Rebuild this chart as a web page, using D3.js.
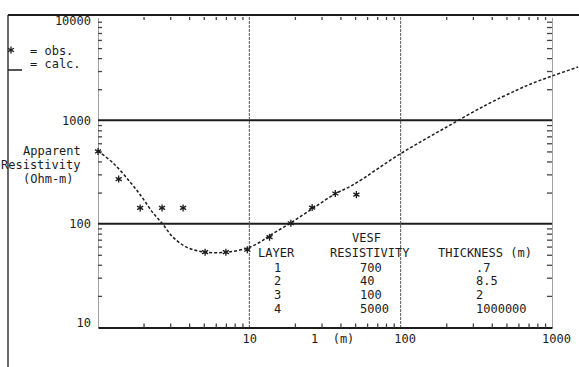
<!DOCTYPE html>
<html>
<head>
<meta charset="utf-8">
<script src="https://cdn.jsdelivr.net/npm/d3@7"></script>
<style>
  html, body { margin: 0; padding: 0; background: #fff; }
  svg { display: block; }
  text { font-family: "DejaVu Sans Mono", "Liberation Mono", monospace; font-size: 12px; fill: #1c1c1c; }
</style>
</head>
<body>
<svg id="chart" width="579" height="367"></svg>
<script>
// Field sounding: electrode half-spacing AB/2 (m) and observed apparent resistivity (ohm-m)
const obsSpacing = [1, 1.37, 1.9, 2.65, 3.65, 5.1, 7, 9.7, 13.6, 18.8, 26, 37, 51];
const obsRho     = [500, 270, 142, 142, 142, 53, 53, 56, 74, 101, 143, 196, 191];

// Calculated model response
const calcSpacing = [1, 1.26, 1.63, 1.95, 2.31, 2.65, 3.13, 3.87, 5.1, 7.1, 9.7, 11.8, 13.5,
                     18.6, 26, 36.8, 48.4, 99, 196, 371, 588, 750, 1000, 1487];
const calcRho     = [505, 386, 253, 181, 127, 101, 74, 59, 53, 53, 58, 66.5, 76,
                     101, 139, 194, 237, 472, 843, 1420, 1967, 2297, 2685, 3281];

// Axis labels
const yTickLabels = [10, 100, 1000, 10000];
const xTickLabels = [10, 100, 1000];
const yGridValues = [100, 1000];
const xGridValues = [10, 100];

// Layer model table
const tableTitle = "VESF";
const tableHeaders = ["LAYER", "RESISTIVITY", "THICKNESS (m)"];
const layerNumbers = ["1", "2", "3", "4"];
const layerResistivity = ["700", "40", "100", "5000"];
const layerThickness = [".7", "8.5", "2", "1000000"];

const svg = d3.select("#chart");
const ink = "#1c1c1c";

const x = d3.scaleLog().domain([1, 1000]).range([98, 552]);
const y = d3.scaleLog().domain([10, 10000]).range([327, 17]);

// Outer frame (top and left edges of the printout)
svg.append("line").attr("x1", 8).attr("x2", 579).attr("y1", 15).attr("y2", 15)
  .attr("stroke", ink).attr("stroke-width", 2);
svg.append("line").attr("x1", 8).attr("x2", 8).attr("y1", 15).attr("y2", 367)
  .attr("stroke", ink).attr("stroke-width", 1.3);

// Minor ticks on all four sides
const minorX = x.ticks().filter(v => Math.abs(Math.log10(v) % 1) > 1e-6);
const minorY = y.ticks().filter(v => Math.abs(Math.log10(v) % 1) > 1e-6);

function styleTicks(g, dotted) {
  g.select(".domain").attr("stroke", "#444").attr("stroke-width", 1)
    .attr("stroke-dasharray", dotted ? "1,1" : null);
  g.selectAll(".tick line").attr("stroke", "#444").attr("stroke-width", 1.3);
  g.selectAll(".tick text").remove();
}

svg.append("g").attr("transform", `translate(${x.range()[0]},0)`)
  .call(d3.axisLeft(y).tickValues(minorY).tickSize(-4).tickSizeOuter(0).tickFormat(""))
  .call(g => styleTicks(g, true));
svg.append("g").attr("transform", `translate(${x.range()[1]},0)`)
  .call(d3.axisRight(y).tickValues(minorY).tickSize(-5).tickSizeOuter(0).tickFormat(""))
  .call(g => styleTicks(g, true));
svg.append("g").attr("transform", `translate(0,${y.range()[1]})`)
  .call(d3.axisTop(x).tickValues(minorX).tickSize(-3).tickSizeOuter(0).tickFormat(""))
  .call(g => { styleTicks(g, false); g.select(".domain").remove(); });
svg.append("g").attr("transform", `translate(0,${y.range()[0] + 0.5})`)
  .call(d3.axisBottom(x).tickValues(minorX).tickSize(-4).tickSizeOuter(0).tickFormat(""))
  .call(g => { styleTicks(g, false); g.select(".domain").attr("stroke", ink).attr("stroke-width", 1.8); });

// Decade grid lines
svg.append("g").selectAll("line").data(yGridValues).join("line")
  .attr("x1", x.range()[0]).attr("x2", x.range()[1])
  .attr("y1", d => y(d)).attr("y2", d => y(d))
  .attr("stroke", ink).attr("stroke-width", 2);
svg.append("g").selectAll("line").data(xGridValues).join("line")
  .attr("x1", d => x(d)).attr("x2", d => x(d))
  .attr("y1", y.range()[1]).attr("y2", y.range()[0])
  .attr("stroke", "#555").attr("stroke-width", 1).attr("stroke-dasharray", "3,1");

// Axis labels; the end labels sit just inside the frame
const [yMin, yMax] = y.domain();
svg.append("g").attr("transform", `translate(${x.range()[0]},0)`)
  .call(d3.axisLeft(y).tickValues(yTickLabels).tickSize(0).tickPadding(7).tickFormat(d3.format("d")))
  .call(g => {
    g.select(".domain").remove();
    g.selectAll("text").attr("font-family", null).attr("font-size", null)
      .attr("y", d => d === yMax ? 4 : d === yMin ? -4 : 0);
  });
svg.append("g").attr("transform", `translate(0,${y.range()[0]})`)
  .call(d3.axisBottom(x).tickValues(xTickLabels).tickSize(0).tickPadding(7).tickFormat(d3.format("d")))
  .call(g => {
    g.select(".domain").remove();
    g.selectAll("text").attr("font-family", null).attr("font-size", null)
      .attr("x", d => d >= 100 ? 4 : 0);
  });
svg.selectAll(".tick text").style("fill", ink);

svg.append("text").attr("x", 311).attr("y", 343).attr("xml:space", "preserve").text("1  (m)");

// Y axis title
svg.append("text").attr("x", 23).attr("y", 155).text("Apparent");
svg.append("text").attr("x", 1).attr("y", 169).text("Resistivity");
svg.append("text").attr("x", 23).attr("y", 183).text("(Ohm-m)");

// Calculated curve (dashed)
const line = d3.line().x(d => x(d[0])).y(d => y(d[1])).curve(d3.curveCatmullRom.alpha(0.5));
svg.append("path")
  .datum(calcSpacing.map((s, i) => [s, calcRho[i]]))
  .attr("d", line).attr("fill", "none")
  .attr("stroke", ink).attr("stroke-width", 1.5).attr("stroke-dasharray", "3,2");

// Observed points as asterisks
const asteriskType = d3.symbolAsterisk || {
  draw(context, size) {
    const r = Math.sqrt(size + Math.min(size / 28, 0.75)) * 0.59436;
    for (let k = 0; k < 3; k++) {
      const a = Math.PI / 2 + k * Math.PI / 3;
      context.moveTo(r * Math.cos(a), r * Math.sin(a));
      context.lineTo(-r * Math.cos(a), -r * Math.sin(a));
    }
  }
};
const star = d3.symbol().type(asteriskType).size(34);
svg.append("g").selectAll("path").data(obsSpacing.map((s, i) => [s, obsRho[i]])).join("path")
  .attr("transform", d => `translate(${x(d[0])},${y(d[1])})`)
  .attr("d", star).attr("fill", "none").attr("stroke", ink).attr("stroke-width", 1.3);

// Legend
svg.append("path").attr("transform", "translate(11,50)").attr("d", star)
  .attr("fill", "none").attr("stroke", ink).attr("stroke-width", 1.3);
svg.append("text").attr("x", 30).attr("y", 55).text("= obs.");
svg.append("line").attr("x1", 8).attr("x2", 22).attr("y1", 70).attr("y2", 70)
  .attr("stroke", ink).attr("stroke-width", 1.5);
svg.append("text").attr("x", 30).attr("y", 68).text("= calc.");

// Layer model table
svg.append("text").attr("x", 352).attr("y", 242).text(tableTitle);
const headerX = [258, 330, 438];
svg.append("g").selectAll("text").data(tableHeaders).join("text")
  .attr("x", (d, i) => headerX[i]).attr("y", 257).attr("xml:space", "preserve").text(d => d);
const rowY = i => 271.5 + i * 13.7;
const columns = [[layerNumbers, 274], [layerResistivity, 360], [layerThickness, 476]];
columns.forEach(([vals, cx]) => {
  svg.append("g").selectAll("text").data(vals).join("text")
    .attr("x", cx).attr("y", (d, i) => rowY(i)).text(d => d);
});
</script>
</body>
</html>
